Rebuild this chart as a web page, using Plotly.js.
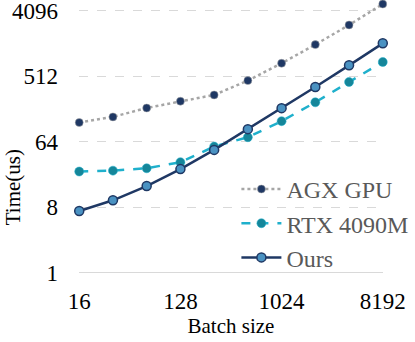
<!DOCTYPE html>
<html><head><meta charset="utf-8">
<script src="https://cdn.plot.ly/plotly-3.0.1.min.js"></script>
<style>html,body{margin:0;padding:0;background:#fff}#chart{width:415px;height:342px}</style>
</head><body><div id="chart"></div>
<script>
const batchSizes = [16, 32, 64, 128, 256, 512, 1024, 2048, 4096, 8192];
const agxGpu = [118, 141, 187, 232, 283, 446, 773, 1397, 2605, 5060];
const rtx4090m = [24.9, 25.6, 27.6, 33.5, 55, 74, 123, 224, 427, 805];
const ours = [7.1, 10.0, 15.7, 26.9, 49.5, 95.6, 186, 364, 724, 1457];
const xTicks = [16, 128, 1024, 8192];
const yTicks = [1, 8, 64, 512, 4096];
const seriesNames = ['AGX GPU', 'RTX 4090M', 'Ours'];

const serif = "Liberation Serif";
const traces = [
  {x: batchSizes, y: agxGpu, name: seriesNames[0], mode: 'lines+markers', cliponaxis: false,
   line: {color: '#a6a6a6', width: 2.5, dash: 'dot'},
   marker: {color: '#1f3864', size: 8, line: {color: '#a6a6a6', width: 0.5}}},
  {x: batchSizes, y: rtx4090m, name: seriesNames[1], mode: 'lines+markers', cliponaxis: false,
   line: {color: '#1fb0cc', width: 2.5, dash: 'dash'},
   marker: {color: '#15869a', size: 9, line: {color: '#1fb0cc', width: 0.5}}},
  {x: batchSizes, y: ours, name: seriesNames[2], mode: 'lines+markers', cliponaxis: false,
   line: {color: '#1f3864', width: 2.5},
   marker: {color: '#4a92c2', size: 9, line: {color: '#1f3864', width: 1.5}}}
];
const eps = 0.002;
const layout = {
  width: 415, height: 342,
  margin: {l: 79, r: 25, t: 2, b: 69},
  paper_bgcolor: '#fff', plot_bgcolor: '#fff',
  showlegend: true,
  legend: {x: 1.1, xanchor: 'right', y: 0.183, yanchor: 'middle', bgcolor: 'rgba(0,0,0,0)',
    font: {family: serif, size: 24, color: '#595959'}, tracegroupgap: 0, itemwidth: 40},
  xaxis: {type: 'log', range: [Math.log10(16) - eps, Math.log10(8192) + eps], tickvals: xTicks, ticktext: xTicks.map(String),
    showgrid: false, zeroline: false, showline: false, ticks: '', ticklabelstandoff: 12,
    tickfont: {family: serif, size: 23, color: '#000'},
    title: {text: 'Batch size', font: {family: serif, size: 21, color: '#000'}, standoff: 5}},
  yaxis: {type: 'log', range: [-eps, Math.log10(5400)], tickvals: yTicks, ticktext: yTicks.map(String),
    showgrid: true, gridcolor: '#d9d9d9', griddash: 'dash', gridwidth: 1, zeroline: false, showline: false,
    ticklabeloverflow: 'allow',
    ticks: '', ticklabelstandoff: 20, tickfont: {family: serif, size: 23, color: '#000'}},
  shapes: [{type: 'line', xref: 'paper', yref: 'y', x0: 0, x1: 1, y0: 1, y1: 1, line: {color: '#d9d9d9', width: 1.5}, layer: 'below'}],
  annotations: [{text: 'Time(us)', textangle: -90, xref: 'paper', yref: 'paper', x: -0.219, xanchor: 'center',
    y: 0.318, yanchor: 'middle', showarrow: false, font: {family: serif, size: 21, color: '#000'}}]
};
Plotly.newPlot('chart', traces, layout, {displayModeBar: false, staticPlot: true});
</script></body></html>
